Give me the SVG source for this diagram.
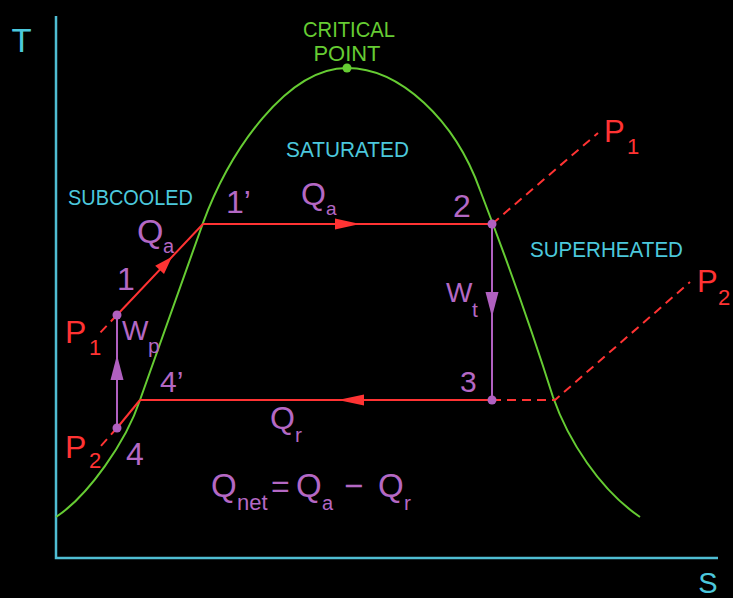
<svg xmlns="http://www.w3.org/2000/svg" width="733" height="598" viewBox="0 0 733 598">
<style>
.axis{stroke:#4fbdd3;stroke-width:2.5;fill:none}
.dome{stroke:#66cc33;stroke-width:2;fill:none}
.red{stroke:#ff3333;stroke-width:2;fill:none}
.dash{stroke:#ff3333;stroke-width:2;fill:none;stroke-dasharray:9 6}
.pur{stroke:#b060c0;stroke-width:2;fill:none}
.redhead{fill:#ff3333}
.purhead{fill:#b060c0}
.dot{fill:#b060c0}
text{font-family:"Liberation Sans","DejaVu Sans",sans-serif}
.cy{fill:#4cc8dc;font-size:22px}
.gr{fill:#66cc33;font-size:22px}
.pl{fill:#b468c4;font-size:32px}
.rl{fill:#ff3333;font-size:32px}
</style>
<rect x="0" y="0" width="733" height="598" fill="#000"/>
<g id="axes">
<path class="axis" d="M56,16 V558 H718"/>
<text class="cy" x="21.5" y="52" style="font-size:33px" text-anchor="middle">T</text>
<text class="cy" x="708" y="593" style="font-size:29px" text-anchor="middle">S</text>
</g>
<g id="dome">
<path class="dome" d="M56,517 C88,496 126,442 140,400 L203,223 C230,150 287,68 347,68 C400,68 455,120 480,190 C505,255 535,340 553,397 C568,440 600,490 640,517"/>
</g>
<g id="critical-point">
<circle cx="347" cy="68" r="4.5" fill="#66cc33"/>
<text class="gr" x="349" y="37" text-anchor="middle" textLength="92" lengthAdjust="spacingAndGlyphs">CRITICAL</text>
<text class="gr" x="347" y="61" text-anchor="middle" textLength="67" lengthAdjust="spacingAndGlyphs">POINT</text>
</g>
<g id="regions">
<text class="cy" x="286" y="157" textLength="123" lengthAdjust="spacingAndGlyphs">SATURATED</text>
<text class="cy" x="68" y="205" textLength="125" lengthAdjust="spacingAndGlyphs">SUBCOOLED</text>
<text class="cy" x="530" y="257" textLength="153" lengthAdjust="spacingAndGlyphs">SUPERHEATED</text>
</g>
<g id="connectors">
<line class="red" x1="117" y1="315" x2="203" y2="224"/>
<line class="red" x1="203" y1="224" x2="492" y2="224"/>
<line class="red" x1="492" y1="400" x2="140" y2="400"/>
<line class="red" x1="117" y1="428" x2="140" y2="400"/>
<line class="dash" x1="117" y1="315" x2="98" y2="335"/>
<line class="dash" x1="117" y1="428" x2="100" y2="447"/>
<line class="dash" x1="492" y1="224" x2="598" y2="133"/>
<polyline class="dash" points="492,400 555,400 690,282"/>
<line class="pur" x1="117" y1="428" x2="117" y2="315"/>
<line class="pur" x1="492" y1="224" x2="492" y2="400"/>
<polygon class="redhead" points="172,256.8 164,274 155.2,265.8"/>
<polygon class="redhead" points="360,224 335,218.5 335,229.5"/>
<polygon class="redhead" points="338,400 364,394.5 364,405.5"/>
<polygon class="purhead" points="117,355 110.5,380 123.5,380"/>
<polygon class="purhead" points="492,317 485.5,292 498.5,292"/>
</g>
<g id="state-1">
<circle class="dot" cx="117" cy="315" r="4.5"/>
<text class="pl" x="117" y="290">1</text>
</g>
<g id="state-1p">
<text class="pl" x="226" y="213">1’</text>
</g>
<g id="state-2">
<circle class="dot" cx="492" cy="224" r="4.5"/>
<text class="pl" x="453" y="217">2</text>
</g>
<g id="state-3">
<circle class="dot" cx="492" cy="400" r="4.5"/>
<text class="pl" x="460" y="392" style="font-size:30px">3</text>
</g>
<g id="state-4">
<circle class="dot" cx="117" cy="428" r="4.5"/>
<text class="pl" x="126" y="465">4</text>
</g>
<g id="state-4p">
<text class="pl" x="160" y="392" style="font-size:30px">4’</text>
</g>
<g id="labels">
<text class="pl" x="137" y="243" style="font-size:34px">Q<tspan x="163" y="253" style="font-size:20px">a</tspan></text>
<text class="pl" x="301" y="205">Q<tspan x="326" y="215" style="font-size:19px">a</tspan></text>
<text class="pl" x="270" y="429">Q<tspan x="295" y="442" style="font-size:21px">r</tspan></text>
<text class="pl" x="122" y="340" style="font-size:28px">W<tspan x="148" y="353" style="font-size:21px">p</tspan></text>
<text class="pl" x="446" y="302" style="font-size:28px">W<tspan x="472" y="317" style="font-size:21px">t</tspan></text>
<text class="pl" x="211" y="497" style="font-size:33px">Q<tspan x="237" y="510" style="font-size:22px">net</tspan><tspan x="271" y="497" style="font-size:32px">=</tspan><tspan x="296" y="497">Q</tspan><tspan x="322" y="510" style="font-size:20px">a</tspan><tspan x="344" y="497">−</tspan><tspan x="378" y="497">Q</tspan><tspan x="404" y="510" style="font-size:21px">r</tspan></text>
<text class="rl" x="65" y="343">P<tspan x="89" y="355" style="font-size:22px">1</tspan></text>
<text class="rl" x="65" y="458">P<tspan x="89" y="468" style="font-size:22px">2</tspan></text>
<text class="rl" x="604" y="142" style="font-size:31px">P<tspan x="627" y="154" style="font-size:22px">1</tspan></text>
<text class="rl" x="697" y="292" style="font-size:31px">P<tspan x="718" y="305" style="font-size:22px">2</tspan></text>
</g>
</svg>
